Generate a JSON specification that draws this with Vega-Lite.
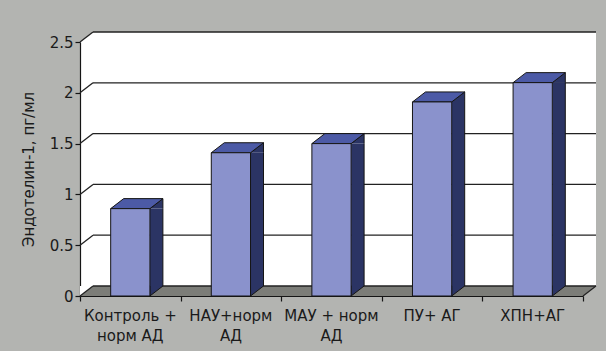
{
  "$schema": "https://vega.github.io/schema/vega-lite/v6.json",
  "width": 503,
  "height": 254,
  "autosize": {"type": "none"},
  "padding": {"left": 80, "top": 42, "right": 23, "bottom": 55},
  "background": "#b3b4b1",
  "datasets": {
    "groups": [
      {"group": "Контроль +\nнорм АД", "value": 0.86},
      {"group": "НАУ+норм\nАД", "value": 1.41},
      {"group": "МАУ + норм\nАД", "value": 1.5},
      {"group": "ПУ+ АГ", "value": 1.91},
      {"group": "ХПН+АГ", "value": 2.1}
    ],
    "grid": [{"v": 0}, {"v": 0.5}, {"v": 1}, {"v": 1.5}, {"v": 2}, {"v": 2.5}],
    "frame": [{}]
  },
  "config": {
    "view": {"fill": "white", "stroke": null},
    "scale": {"bandPaddingInner": 0.61, "bandPaddingOuter": 0.305},
    "font": "DejaVu Sans"
  },
  "resolve": {"scale": {"x": "independent"}, "axis": {"x": "independent", "y": "independent"}},
  "layer": [
    {
      "description": "back wall, pushed back by the depth offset",
      "data": {"name": "frame"},
      "mark": {"type": "rect", "fill": "white", "xOffset": 13, "x2Offset": 13, "yOffset": -10, "y2Offset": -10},
      "encoding": {
        "x": {"datum": 0, "type": "quantitative", "scale": {"domain": [0, 1], "nice": false, "zero": false}, "axis": null},
        "x2": {"datum": 1},
        "y": {"datum": 2.5, "type": "quantitative", "scale": {"domain": [0, 2.5], "nice": false}, "axis": null},
        "y2": {"datum": 0}
      }
    },
    {
      "description": "top corner of the side wall",
      "data": {"name": "frame"},
      "mark": {"type": "point", "shape": "M0,0L13,-10L13,0Z", "size": 4, "filled": true, "fill": "white", "strokeWidth": 0, "opacity": 1},
      "encoding": {
        "x": {"datum": 0, "type": "quantitative", "scale": {"domain": [0, 1], "nice": false, "zero": false}, "axis": null},
        "y": {"datum": 2.5, "type": "quantitative", "axis": null}
      }
    },
    {
      "description": "floor slab",
      "data": {"name": "frame"},
      "mark": {"type": "rect", "fill": "#7c7d78", "yOffset": -10, "x2Offset": 13},
      "encoding": {
        "x": {"datum": 0, "type": "quantitative", "scale": {"domain": [0, 1], "nice": false, "zero": false},
              "axis": {"orient": "bottom", "values": [0, 0.2, 0.4, 0.6, 0.8, 1], "labels": false, "ticks": true, "tickSize": 5, "tickColor": "#151515", "tickWidth": 1.2, "domain": true, "domainColor": "#151515", "domainWidth": 1.2, "grid": false, "title": null}},
        "x2": {"datum": 1},
        "y": {"datum": 0, "type": "quantitative", "axis": null},
        "y2": {"datum": 0}
      }
    },
    {
      "description": "left end of the floor is slanted",
      "data": {"name": "frame"},
      "mark": {"type": "point", "shape": "M0,0L0,-10L13,-10Z", "size": 4, "filled": true, "fill": "white", "strokeWidth": 0, "opacity": 1},
      "encoding": {
        "x": {"datum": 0, "type": "quantitative", "scale": {"domain": [0, 1], "nice": false, "zero": false}, "axis": null},
        "y": {"datum": 0, "type": "quantitative", "axis": null}
      }
    },
    {
      "description": "right end of the floor is slanted",
      "data": {"name": "frame"},
      "mark": {"type": "point", "shape": "M0,0L13,0L13,-10Z", "size": 4, "filled": true, "fill": "#b3b4b1", "strokeWidth": 0, "opacity": 1},
      "encoding": {
        "x": {"datum": 1, "type": "quantitative", "scale": {"domain": [0, 1], "nice": false, "zero": false}, "axis": null},
        "y": {"datum": 0, "type": "quantitative", "axis": null}
      }
    },
    {
      "description": "gridlines on the back wall",
      "data": {"name": "grid"},
      "mark": {"type": "rule", "color": "#222222", "strokeWidth": 1.3, "xOffset": 13, "x2Offset": 13, "yOffset": -10, "y2Offset": -10},
      "encoding": {
        "x": {"datum": 0, "type": "quantitative", "scale": {"domain": [0, 1], "nice": false, "zero": false}, "axis": null},
        "x2": {"datum": 1},
        "y": {"field": "v", "type": "quantitative", "axis": null},
        "y2": {"field": "v"}
      }
    },
    {
      "description": "gridlines across the side wall",
      "data": {"name": "grid"},
      "mark": {"type": "rule", "color": "#222222", "strokeWidth": 1.3, "x2Offset": 13, "y2Offset": -10},
      "encoding": {
        "x": {"datum": 0, "type": "quantitative", "scale": {"domain": [0, 1], "nice": false, "zero": false}, "axis": null},
        "x2": {"datum": 0},
        "y": {"field": "v", "type": "quantitative", "axis": null},
        "y2": {"field": "v"}
      }
    },
    {
      "description": "right edge of the floor",
      "data": {"name": "frame"},
      "mark": {"type": "rule", "color": "#222222", "strokeWidth": 1.2, "x2Offset": 13, "y2Offset": -10},
      "encoding": {
        "x": {"datum": 1, "type": "quantitative", "scale": {"domain": [0, 1], "nice": false, "zero": false}, "axis": null},
        "x2": {"datum": 1},
        "y": {"datum": 0, "type": "quantitative", "axis": null},
        "y2": {"datum": 0}
      }
    },
    {
      "data": {"name": "groups"},
      "resolve": {"axis": {"x": "independent", "y": "independent"}},
      "layer": [
        {
          "description": "column side face",
          "mark": {"type": "bar", "fill": "#2b3464", "strokeWidth": 0, "width": 13, "xOffset": 26.1, "y2Offset": -10},
          "encoding": {
            "x": {"field": "group", "type": "nominal", "sort": null, "axis": null},
            "y": {"field": "value", "type": "quantitative", "axis": null},
            "y2": {"datum": 0}
          }
        },
        {
          "mark": {"type": "rule", "color": "#151515", "strokeWidth": 1, "xOffset": 32.6, "y2Offset": -10},
          "encoding": {
            "x": {"field": "group", "type": "nominal", "sort": null, "axis": null},
            "y": {"field": "value", "type": "quantitative", "axis": null},
            "y2": {"datum": 0}
          }
        },
        {
          "mark": {"type": "point", "shape": "M32.6,-10L19.6,0L19.6,-10", "size": 4, "filled": true, "fill": "#2b3464", "stroke": "#151515", "strokeWidth": 1, "opacity": 1},
          "encoding": {
            "x": {"field": "group", "type": "nominal", "sort": null, "axis": null},
            "y": {"datum": 0, "type": "quantitative", "axis": null}
          }
        },
        {
          "mark": {"type": "point", "shape": "M32.6,0L32.6,-10L19.6,0", "size": 4, "filled": true, "fill": "#2b3464", "stroke": "#151515", "strokeWidth": 1, "opacity": 1},
          "encoding": {
            "x": {"field": "group", "type": "nominal", "sort": null, "axis": null},
            "y": {"field": "value", "type": "quantitative", "axis": null}
          }
        },
        {
          "description": "column top face",
          "mark": {"type": "point", "shape": "M-19.6,0L-6.6,-10L32.6,-10L19.6,0Z", "size": 4, "filled": true, "fill": "#4c5aa6", "stroke": "#151515", "strokeWidth": 1, "opacity": 1},
          "encoding": {
            "x": {"field": "group", "type": "nominal", "sort": null, "axis": null},
            "y": {"field": "value", "type": "quantitative", "axis": null}
          }
        },
        {
          "description": "column front face",
          "mark": {"type": "bar", "fill": "#8a92cc", "stroke": "#151515", "strokeWidth": 1},
          "encoding": {
            "x": {"field": "group", "type": "nominal", "sort": null,
                  "axis": {"orient": "bottom", "title": null, "domain": false, "ticks": false, "labelAngle": 0, "labelFont": "DejaVu Sans", "labelFontSize": 15, "labelColor": "#1a1a1a", "labelPadding": 12, "labelBaseline": "top", "labelLineHeight": 20, "labelExpr": "split(datum.label, '\\n')"}},
            "y": {"field": "value", "type": "quantitative",
                  "axis": {"orient": "left", "title": "Эндотелин-1, пг/мл", "values": [0, 0.5, 1, 1.5, 2, 2.5], "format": "~g", "grid": false, "domain": true, "domainColor": "#151515", "domainWidth": 1.2, "ticks": true, "tickSize": 5, "tickColor": "#151515", "tickWidth": 1.2, "labelFont": "DejaVu Sans", "labelFontSize": 15, "labelColor": "#1a1a1a", "labelPadding": 2, "titleFont": "DejaVu Sans", "titleFontSize": 15, "titleFontWeight": "normal", "titleColor": "#1a1a1a", "titlePadding": 13}}
          }
        }
      ]
    }
  ]
}
